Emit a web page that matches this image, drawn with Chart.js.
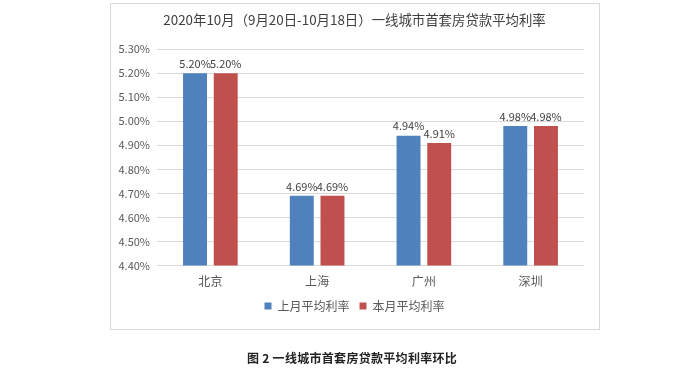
<!DOCTYPE html>
<html>
<head>
<meta charset="utf-8">
<script src="https://cdn.jsdelivr.net/npm/chart.js@4"></script>
<style>
  html, body { margin: 0; padding: 0; background: #fff; }
  #wrap { position: relative; width: 700px; height: 377px; }
  #box { position: absolute; left: 110px; top: 3px; width: 488px; height: 325px; border: 1px solid #d9d9d9; }
  canvas { position: absolute; left: 0; top: 0; }
  #caption { position: absolute; left: 0; width: 704px; top: 349px; text-align: center;
    font: bold 12px "Noto Sans CJK SC", sans-serif; color: #222; letter-spacing: 0.3px; }
</style>
</head>
<body>
<div id="wrap">
  <div id="box"></div>
  <canvas id="c" width="700" height="377"></canvas>
  <div id="caption">图 2 一线城市首套房贷款平均利率环比</div>
</div>
<script>
const categories = ['北京', '上海', '广州', '深圳'];
const lastMonth = [5.20, 4.69, 4.94, 4.98];
const thisMonth = [5.20, 4.69, 4.91, 4.98];
const seriesNames = ['上月平均利率', '本月平均利率'];
const titleText = '2020年10月（9月20日-10月18日）一线城市首套房贷款平均利率';
const yMin = 4.40, yMax = 5.30, yStep = 0.10;

const FONT = '"Noto Sans CJK SC", "Noto Sans", sans-serif';

const valueLabels = {
  id: 'valueLabels',
  afterDatasetsDraw(chart) {
    const ctx = chart.ctx;
    ctx.save();
    ctx.font = '11px ' + FONT;
    ctx.fillStyle = '#404040';
    ctx.textAlign = 'center';
    ctx.textBaseline = 'bottom';
    chart.data.datasets.forEach((ds, i) => {
      chart.getDatasetMeta(i).data.forEach((bar, j) => {
        ctx.fillText(ds.data[j].toFixed(2) + '%', bar.x, bar.y - 4);
      });
    });
    ctx.restore();
  }
};

// centre title and legend on the framed box rather than on the plot
const recentre = {
  id: 'recentre',
  afterLayout(chart) {
    [chart.titleBlock, chart.legend].forEach(b => {
      if (b) { b.left += 15; b.width = b.right - b.left; }
    });
  }
};

new Chart(document.getElementById('c'), {
  type: 'bar',
  data: {
    labels: categories,
    datasets: [
      { label: seriesNames[0], data: lastMonth, backgroundColor: '#4F81BD' },
      { label: seriesNames[1], data: thisMonth, backgroundColor: '#C0504D' }
    ]
  },
  options: {
    responsive: false,
    animation: false,
    devicePixelRatio: 1,
    layout: { padding: { left: 110, right: 116, top: 8, bottom: 55 } },
    datasets: { bar: { categoryPercentage: 0.575, barPercentage: 0.78 } },
    plugins: {
      title: {
        display: true, text: titleText, color: '#404040',
        font: { family: FONT, size: 13.4, weight: 'normal' },
        padding: { top: 4, bottom: 21 }
      },
      legend: {
        position: 'bottom',
        labels: {
          color: '#595959', font: { family: FONT, size: 12 },
          boxWidth: 7, boxHeight: 7, padding: 10
        }
      },
      tooltip: { enabled: false }
    },
    scales: {
      x: {
        grid: { display: false },
        border: { display: false },
        ticks: { color: '#595959', font: { family: FONT, size: 12 }, padding: 1 }
      },
      y: {
        min: yMin, max: yMax,
        afterFit(s) { s.width = 47; },
        grid: { color: '#d9d9d9', drawTicks: false },
        border: { display: false },
        ticks: {
          stepSize: yStep, padding: 7, color: '#595959',
          font: { family: FONT, size: 11 },
          callback: v => Number(v).toFixed(2) + '%'
        }
      }
    }
  },
  plugins: [valueLabels, recentre]
});
</script>
</body>
</html>
